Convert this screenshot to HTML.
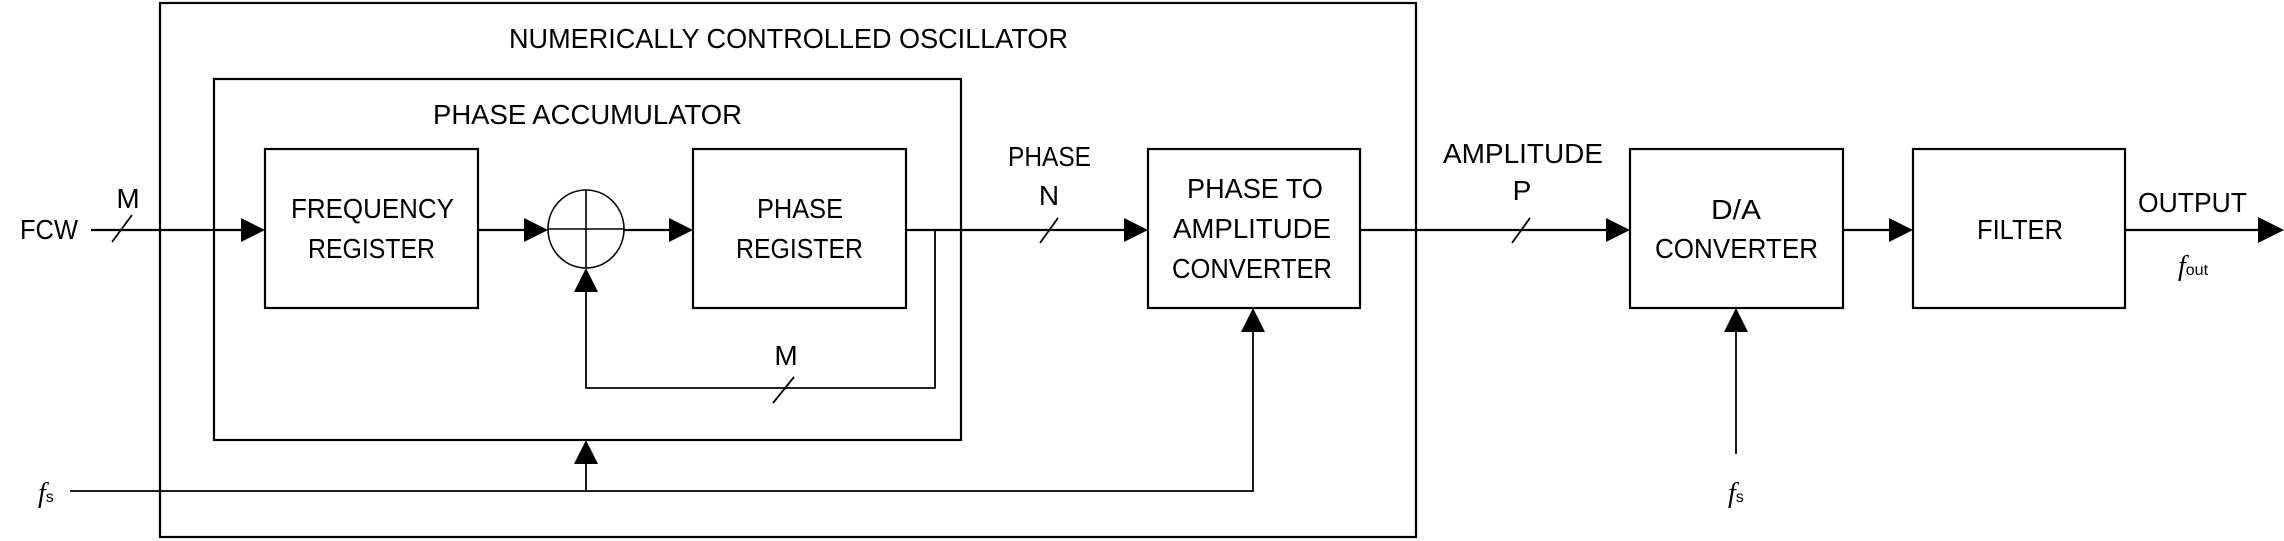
<!DOCTYPE html>
<html><head><meta charset="utf-8"><style>
html,body{margin:0;padding:0;background:#fff;}
svg{display:block;}
text{font-family:"Liberation Sans",sans-serif;font-size:28px;fill:#000;}
</style></head><body>
<svg width="2284" height="541" viewBox="0 0 2284 541" xmlns="http://www.w3.org/2000/svg">
<g fill="none" stroke="#000" stroke-width="2.2">
<rect x="160" y="3" width="1256" height="534"/>
<rect x="214" y="79" width="747" height="361"/>
<rect x="265" y="149" width="213" height="159"/>
<rect x="693" y="149" width="213" height="159"/>
<rect x="1148" y="149" width="212" height="159"/>
<rect x="1630" y="149" width="213" height="159"/>
<rect x="1913" y="149" width="212" height="159"/>
<ellipse cx="586" cy="229" rx="38" ry="39" stroke-width="1.6"/>
<line x1="586" y1="190" x2="586" y2="268" stroke-width="1.6"/>
<line x1="548" y1="229" x2="624" y2="229" stroke-width="1.6"/>
<!-- main lines -->
<line x1="91" y1="230" x2="245" y2="230"/>
<line x1="478" y1="230" x2="530" y2="230"/>
<line x1="624" y1="230" x2="674" y2="230"/>
<line x1="906" y1="230" x2="1128" y2="230"/>
<line x1="1360" y1="230" x2="1610" y2="230"/>
<line x1="1843" y1="230" x2="1893" y2="230"/>
<line x1="2125" y1="230" x2="2262" y2="230"/>
<!-- feedback -->
<polyline points="935,230 935,388 586,388 586,288" stroke-width="1.8"/>
<!-- fs -->
<polyline points="70,491 1253,491 1253,328" stroke-width="1.8"/>
<line x1="586" y1="491" x2="586" y2="460" stroke-width="1.8"/>
<line x1="1736" y1="454" x2="1736" y2="328" stroke-width="1.8"/>
<!-- slashes -->
<line x1="112" y1="242" x2="132" y2="215" stroke-width="1.8"/>
<line x1="773" y1="403" x2="794" y2="377" stroke-width="1.8"/>
<line x1="1040" y1="243" x2="1058" y2="218" stroke-width="1.8"/>
<line x1="1512" y1="243" x2="1530" y2="218" stroke-width="1.8"/>
</g>
<g fill="#000">
<polygon points="241,218 265,230 241,242"/>
<polygon points="524,218 548,230 524,242"/>
<polygon points="669,218 693,230 669,242"/>
<polygon points="1124,218 1148,230 1124,242"/>
<polygon points="1606,218 1630,230 1606,242"/>
<polygon points="1889,218 1913,230 1889,242"/>
<polygon points="2258,217 2284,230 2258,243"/>
<polygon points="574,292 586,268 598,292"/>
<polygon points="574,464 586,440 598,464"/>
<polygon points="1241,332 1253,308 1265,332"/>
<polygon points="1724,332 1736,308 1748,332"/>
</g>
<text x="509" y="48" textLength="559" lengthAdjust="spacingAndGlyphs">NUMERICALLY CONTROLLED OSCILLATOR</text>
<text x="433" y="124" textLength="309" lengthAdjust="spacingAndGlyphs">PHASE ACCUMULATOR</text>
<text x="20" y="239" textLength="58" lengthAdjust="spacingAndGlyphs">FCW</text>
<text x="128" y="208" text-anchor="middle">M</text>
<text x="291" y="218" textLength="163" lengthAdjust="spacingAndGlyphs">FREQUENCY</text>
<text x="308" y="258" textLength="127" lengthAdjust="spacingAndGlyphs">REGISTER</text>
<text x="757" y="218" textLength="86" lengthAdjust="spacingAndGlyphs">PHASE</text>
<text x="736" y="258" textLength="127" lengthAdjust="spacingAndGlyphs">REGISTER</text>
<text x="786" y="365" text-anchor="middle">M</text>
<text x="1008" y="166" textLength="83" lengthAdjust="spacingAndGlyphs">PHASE</text>
<text x="1049" y="205" text-anchor="middle">N</text>
<text x="1187" y="198" textLength="136" lengthAdjust="spacingAndGlyphs">PHASE TO</text>
<text x="1173" y="238" textLength="158" lengthAdjust="spacingAndGlyphs">AMPLITUDE</text>
<text x="1172" y="278" textLength="160" lengthAdjust="spacingAndGlyphs">CONVERTER</text>
<text x="1443" y="163" textLength="160" lengthAdjust="spacingAndGlyphs">AMPLITUDE</text>
<text x="1522" y="200" text-anchor="middle">P</text>
<text x="1711" y="219" textLength="50" lengthAdjust="spacingAndGlyphs">D/A</text>
<text x="1655" y="258" textLength="163" lengthAdjust="spacingAndGlyphs">CONVERTER</text>
<text x="1977" y="239" textLength="86" lengthAdjust="spacingAndGlyphs">FILTER</text>
<text x="2138" y="212" textLength="109" lengthAdjust="spacingAndGlyphs">OUTPUT</text>
<text x="38" y="502" font-family="Liberation Serif" font-style="italic" style="font-family:'Liberation Serif',serif;font-style:italic">f<tspan font-size="16" style="font-family:'Liberation Sans',sans-serif;font-style:normal;font-size:16px">s</tspan></text>
<text x="1728" y="502" style="font-family:'Liberation Serif',serif;font-style:italic">f<tspan style="font-family:'Liberation Sans',sans-serif;font-style:normal;font-size:16px">s</tspan></text>
<text x="2178" y="275" style="font-family:'Liberation Serif',serif;font-style:italic">f<tspan style="font-family:'Liberation Sans',sans-serif;font-style:normal;font-size:16px">out</tspan></text>
</svg>
</body></html>
